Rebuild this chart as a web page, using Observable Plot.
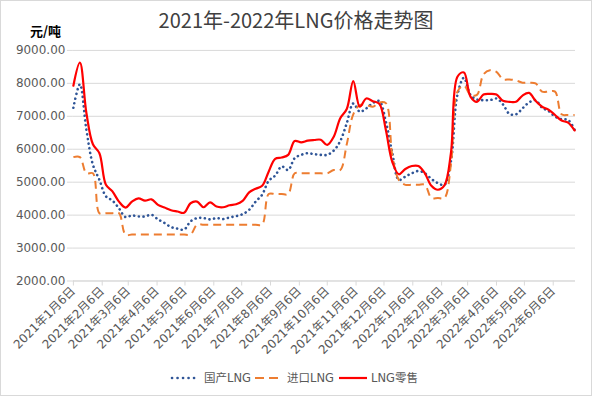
<!DOCTYPE html>
<html><head><meta charset="utf-8">
<script src="https://cdn.jsdelivr.net/npm/d3@7"></script>
<script src="https://cdn.jsdelivr.net/npm/@observablehq/plot@0.6"></script>
<style>
body{margin:0;background:#fff;font-family:"DejaVu Sans","Noto Sans CJK SC",sans-serif;}
#wrap{position:relative;width:592px;height:396px;box-sizing:border-box;border:1px solid #d9d9d9;background:#fff;overflow:hidden}
#title{position:absolute;left:0;right:0;top:5px;text-align:center;font-family:"Noto Sans CJK SC","Noto Sans",sans-serif;font-size:20px;color:#404040;line-height:28px}
#unit{position:absolute;left:29px;top:21px;font-family:"Noto Sans CJK SC",sans-serif;font-size:13px;font-weight:bold;color:#000;line-height:18px}
#chart{position:absolute;left:-1px;top:-1px}
#legend{position:absolute;top:367px;left:0;width:592px;height:20px;font-size:11.5px;color:#595959;line-height:20px;white-space:nowrap}
#legend svg,#legend span{position:absolute;top:0}
</style></head>
<body>
<div id="wrap">
  <div id="chart"></div>
  <div id="title">2021年-2022年LNG价格走势图</div>
  <div id="unit">元/吨</div>
  <div id="legend"></div>
</div>
<script>
const seriesNames = ["国产LNG", "进口LNG", "LNG零售"];
const seriesColors = ["#2F5597", "#ED7D31", "#FF0000"];
const firstWeek = "2021-01-06";
const weekCount = 78;

const domestic = [7260,7970,6590,5530,5070,4570,4440,4210,3940,3990,3960,3960,4010,3870,3760,3640,
  3590,3560,3810,3910,3910,3870,3910,3880,3930,3970,4030,4160,4410,4620,5040,5200,
  5480,5370,5730,5830,5880,5850,5830,5830,5960,6250,6790,7390,7140,7240,7400,7460,
  6840,5880,5070,5170,5270,5340,5270,5100,4970,4920,5630,7650,8170,7650,7510,7490,
  7490,7540,7360,7070,7060,7240,7420,7490,7260,7160,6990,6910,6890,6590];
const imported = [5760,5760,5270,5270,4060,4060,4060,4060,3410,3410,3410,3410,3410,3410,3410,3410,
  3410,3410,3410,3710,3710,3710,3710,3710,3710,3710,3710,3710,3710,3710,4640,4640,
  4640,4640,5270,5270,5270,5270,5270,5270,5370,5370,6150,7060,7340,7340,7290,7420,
  7400,5800,5070,4920,4920,4920,4920,4520,4520,4520,5530,7750,7930,7650,7650,8270,
  8400,8350,8120,8120,8090,8020,8020,8000,7750,7750,7750,7060,7040,7040];
const retail = [7930,8630,7100,6150,5880,4920,4720,4410,4230,4410,4510,4440,4480,4310,4230,4150,
  4110,4070,4360,4410,4240,4390,4260,4240,4300,4330,4430,4690,4800,4890,5320,5710,
  5750,5830,6250,6210,6260,6280,6290,6130,6380,6940,7220,8070,7290,7540,7460,7380,
  6590,5610,5240,5400,5490,5490,5270,4890,4770,4900,5880,8200,8330,7600,7440,7660,
  7680,7660,7470,7440,7440,7630,7710,7470,7290,7200,7040,6870,6810,6570];

const tickDates = ["2021-01-06","2021-02-06","2021-03-06","2021-04-06","2021-05-06","2021-06-06",
  "2021-07-06","2021-08-06","2021-09-06","2021-10-06","2021-11-06","2021-12-06",
  "2022-01-06","2022-02-06","2022-03-06","2022-04-06","2022-05-06","2022-06-06"];
const tickLabels = ["2021年1月6日","2021年2月6日","2021年3月6日","2021年4月6日","2021年5月6日","2021年6月6日",
  "2021年7月6日","2021年8月6日","2021年9月6日","2021年10月6日","2021年11月6日","2021年12月6日",
  "2022年1月6日","2022年2月6日","2022年3月6日","2022年4月6日","2022年5月6日","2022年6月6日"];
const yTicks = [2000,3000,4000,5000,6000,7000,8000,9000];
const xDomain = ["2021-01-06","2022-06-30"];

const start = new Date(firstWeek);
const dates = d3.range(weekCount).map(i => d3.utcDay.offset(start, 7 * i));
const allSeries = [domestic, imported, retail];
const rows = allSeries.flatMap((vals, s) => vals.map((v, i) => ({date: dates[i], value: v, series: seriesNames[s]})));
const tickD = tickDates.map(d => new Date(d));
const labelOf = new Map(tickD.map((d, i) => [+d, tickLabels[i]]));

const styles = [
  {strokeWidth: 2.6, strokeDasharray: "0.1,4.6", strokeLinecap: "round"},
  {strokeWidth: 2, strokeDasharray: "8,5", strokeLinecap: "butt"},
  {strokeWidth: 2.2, strokeLinecap: "round"}
];

const chart = Plot.plot({
  width: 592, height: 396,
  marginLeft: 73, marginRight: 16, marginTop: 50, marginBottom: 115,
  style: {fontFamily: '"DejaVu Sans","Noto Sans CJK SC",sans-serif', fontSize: "12px", color: "#595959", background: "transparent"},
  x: {type: "utc", domain: xDomain.map(d => new Date(d))},
  y: {domain: [2000, 9000]},
  marks: [
    Plot.gridY(yTicks, {stroke: "#d9d9d9", strokeOpacity: 1, strokeWidth: 1}),
    Plot.axisY(yTicks, {tickSize: 6, tickPadding: 2, stroke: "#d9d9d9", tickFormat: d => d.toFixed(2), label: null, fill: "#595959", fontSize: 12}),
    Plot.axisX(tickD, {tickSize: 5, tickPadding: 3, tickRotate: -45, stroke: "#d9d9d9", tickFormat: d => labelOf.get(+d), label: null, fill: "#595959", fontSize: 12}),
    Plot.ruleY([2000], {stroke: "#d9d9d9", strokeWidth: 1}),
    ...seriesNames.map((name, s) => Plot.lineY(rows.filter(r => r.series === name), {
      x: "date", y: "value", stroke: seriesColors[s], curve: "catmull-rom", ...styles[s]
    }))
  ]
});
document.getElementById("chart").appendChild(chart);

const legend = document.getElementById("legend");
const swatch = [
  '<svg style="left:169px" width="30" height="20"><line x1="2" y1="10" x2="28" y2="10" stroke="#2F5597" stroke-width="2.6" stroke-dasharray="0.1,5.4" stroke-linecap="round"/></svg>',
  '<svg style="left:254px" width="26" height="20"><line x1="0" y1="10" x2="24" y2="10" stroke="#ED7D31" stroke-width="2.2" stroke-dasharray="9,5"/></svg>',
  '<svg style="left:338px" width="30" height="20"><line x1="0" y1="10" x2="28" y2="10" stroke="#FF0000" stroke-width="2.2"/></svg>'
];
const textLeft = [203, 286, 370];
seriesNames.forEach((n, i) => {
  legend.insertAdjacentHTML("beforeend", swatch[i] + '<span style="left:' + textLeft[i] + 'px">' + n + '</span>');
});
</script>
</body></html>
